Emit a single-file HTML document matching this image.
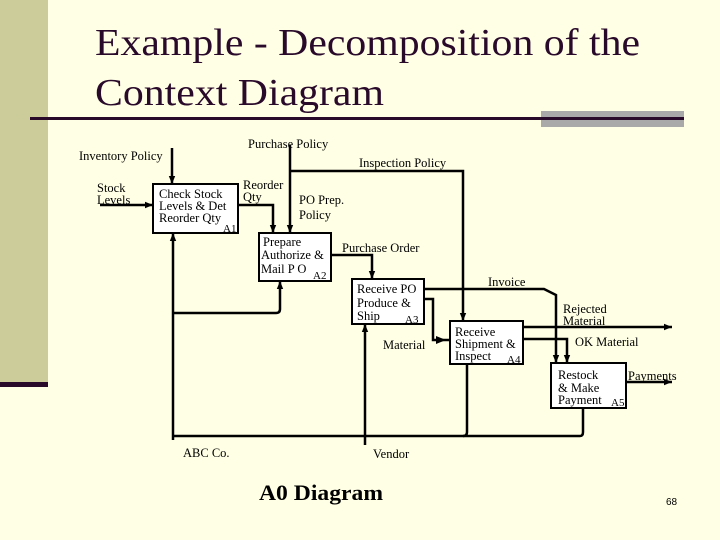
<!DOCTYPE html>
<html><head><meta charset="utf-8"><style>
html,body{margin:0;padding:0;background:#FFFFE5;}
svg{display:block}
text{font-family:"Liberation Serif",serif;fill:#000}
</style></head><body>
<svg width="720" height="540" viewBox="0 0 720 540" xmlns="http://www.w3.org/2000/svg">
<defs><marker id="a" viewBox="0 0 10 10" refX="10" refY="5" markerWidth="8" markerHeight="8" markerUnits="userSpaceOnUse" orient="auto"><path d="M0,1 L10,5 L0,9 z" fill="#000"/></marker></defs>
<rect width="720" height="540" fill="#FFFFE5"/>
<rect x="0" y="0" width="48" height="382" fill="#CCCC9A"/>
<rect x="0" y="382" width="48" height="5" fill="#2A0A2A"/>
<rect x="541" y="111" width="143" height="16" fill="#A9A9A9"/>
<rect x="30" y="117" width="654" height="3" fill="#2A0A2A"/>
<text x="95" y="55" font-size="38" fill="#2A0A2A" style="fill:#2A0A2A" textLength="545" lengthAdjust="spacingAndGlyphs">Example - Decomposition of the</text>
<text x="95" y="105" font-size="38" style="fill:#2A0A2A" textLength="289" lengthAdjust="spacingAndGlyphs">Context Diagram</text>

<g fill="#fff" stroke="#000" stroke-width="2">
<rect x="153" y="184" width="85" height="49"/>
<rect x="259" y="233" width="72" height="48"/>
<rect x="352" y="279" width="72" height="45"/>
<rect x="450" y="321" width="73" height="43"/>
<rect x="551" y="363" width="75" height="45"/>
</g>
<g fill="none" stroke="#000" stroke-width="2.5">
<path d="M172 148 V184" marker-end="url(#a)"/>
<path d="M100 205 H153" marker-end="url(#a)"/>
<path d="M238 205 H273 V233" marker-end="url(#a)"/>
<path d="M290 145 V233" marker-end="url(#a)"/>
<path d="M290 171 H463 V321" marker-end="url(#a)"/>
<path d="M331 255 H372 V279" marker-end="url(#a)"/>
<path d="M424 289 H544 L556 295 V363" marker-end="url(#a)"/>
<path d="M424 299 H433 V340 H450"/>
<path d="M523 327 H672" marker-end="url(#a)"/>
<path d="M523 339 H567 V363" marker-end="url(#a)"/>
<path d="M626 382 H672" marker-end="url(#a)"/>
<path d="M173 440 V233" marker-end="url(#a)"/>
<path d="M173 313 H276 Q280 313 280 309 V281" marker-end="url(#a)"/>
<path d="M173 436 H580 Q583 436 583 432 V408"/>
<path d="M463 436 Q467 436 467 432 V364"/>
<path d="M365 445 V324" marker-end="url(#a)"/>
</g>
<path d="M446 340 L436 336 L436 344 z" fill="#000"/>

<g font-size="12.5">
<text x="248" y="148">Purchase Policy</text>
<text x="79" y="160">Inventory Policy</text>
<text x="359" y="167">Inspection Policy</text>
<text x="97" y="192">Stock</text>
<text x="97" y="204">Levels</text>
<text x="159" y="198">Check Stock</text>
<text x="159" y="210">Levels &amp; Det</text>
<text x="159" y="222">Reorder Qty</text>
<text x="223" y="232" font-size="11">A1</text>
<text x="243" y="189">Reorder</text>
<text x="243" y="201">Qty</text>
<text x="299" y="204">PO Prep.</text>
<text x="299" y="219">Policy</text>
<text x="263" y="246">Prepare</text>
<text x="261" y="259">Authorize &amp;</text>
<text x="261" y="273">Mail P O</text>
<text x="313" y="279" font-size="11">A2</text>
<text x="342" y="252">Purchase Order</text>
<text x="357" y="293">Receive PO</text>
<text x="357" y="307">Produce &amp;</text>
<text x="357" y="320">Ship</text>
<text x="405" y="323" font-size="11">A3</text>
<text x="488" y="286">Invoice</text>
<text x="563" y="313">Rejected</text>
<text x="563" y="325">Material</text>
<text x="455" y="336">Receive</text>
<text x="455" y="348">Shipment &amp;</text>
<text x="455" y="360">Inspect</text>
<text x="507" y="363" font-size="11">A4</text>
<text x="575" y="346">OK Material</text>
<text x="383" y="349">Material</text>
<text x="558" y="379">Restock</text>
<text x="558" y="392">&amp; Make</text>
<text x="558" y="404">Payment</text>
<text x="611" y="406" font-size="11">A5</text>
<text x="628" y="380">Payments</text>
<text x="183" y="457">ABC Co.</text>
<text x="373" y="458">Vendor</text>
</g>
<text x="259" y="500" font-size="22" font-weight="bold" textLength="124" lengthAdjust="spacingAndGlyphs">A0 Diagram</text>
<text x="666" y="505" font-size="10" style="font-family:'Liberation Sans',sans-serif">68</text>
</svg>
</body></html>
